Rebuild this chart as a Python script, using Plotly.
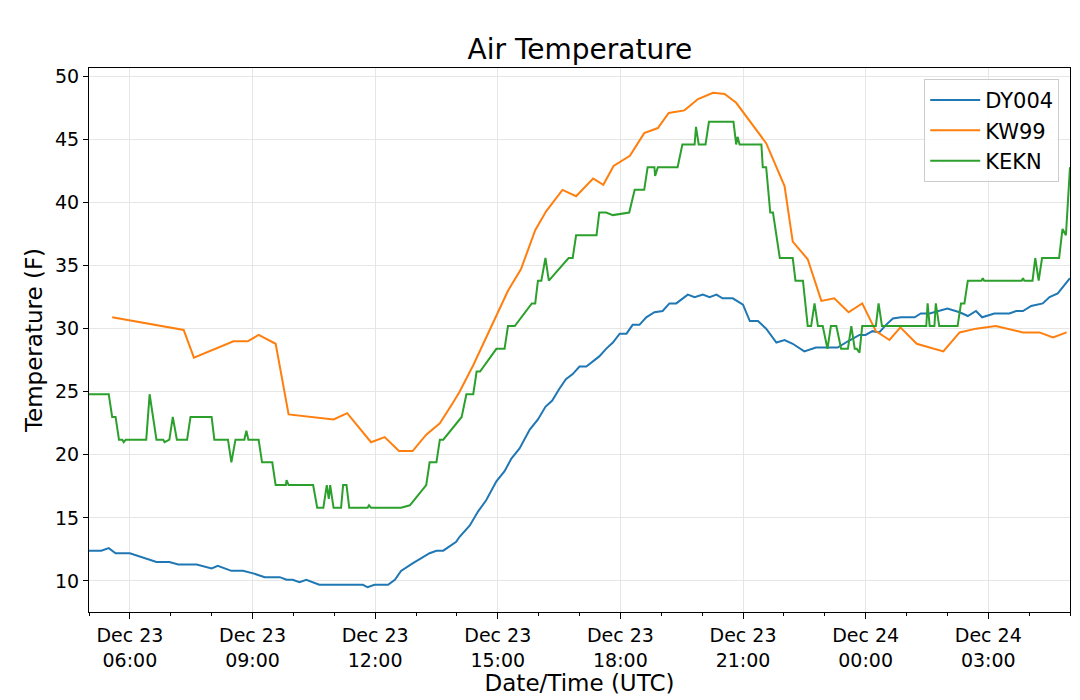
import plotly.graph_objects as go

# ---- data (deg F) ----
dy004_time = [
    "2019-12-23 05:00", "2019-12-23 05:18", "2019-12-23 05:29", "2019-12-23 05:39", "2019-12-23 06:00",
    "2019-12-23 06:39", "2019-12-23 06:58", "2019-12-23 07:11", "2019-12-23 07:38", "2019-12-23 08:00",
    "2019-12-23 08:09", "2019-12-23 08:29", "2019-12-23 08:46", "2019-12-23 09:01", "2019-12-23 09:18",
    "2019-12-23 09:40", "2019-12-23 09:50", "2019-12-23 09:59", "2019-12-23 10:09", "2019-12-23 10:19",
    "2019-12-23 10:38", "2019-12-23 11:42", "2019-12-23 11:49", "2019-12-23 11:59", "2019-12-23 12:19",
    "2019-12-23 12:29", "2019-12-23 12:38", "2019-12-23 12:55", "2019-12-23 13:20", "2019-12-23 13:30",
    "2019-12-23 13:40", "2019-12-23 13:59", "2019-12-23 14:04", "2019-12-23 14:19", "2019-12-23 14:31",
    "2019-12-23 14:43", "2019-12-23 14:58", "2019-12-23 15:10", "2019-12-23 15:20", "2019-12-23 15:32",
    "2019-12-23 15:47", "2019-12-23 15:59", "2019-12-23 16:10", "2019-12-23 16:20", "2019-12-23 16:30",
    "2019-12-23 16:40", "2019-12-23 16:50", "2019-12-23 17:00", "2019-12-23 17:10", "2019-12-23 17:20",
    "2019-12-23 17:29", "2019-12-23 17:39", "2019-12-23 17:49", "2019-12-23 17:59", "2019-12-23 18:09",
    "2019-12-23 18:18", "2019-12-23 18:28", "2019-12-23 18:38", "2019-12-23 18:50", "2019-12-23 19:02",
    "2019-12-23 19:12", "2019-12-23 19:22", "2019-12-23 19:39", "2019-12-23 19:49", "2019-12-23 20:01",
    "2019-12-23 20:11", "2019-12-23 20:21", "2019-12-23 20:30", "2019-12-23 20:45", "2019-12-23 21:00",
    "2019-12-23 21:10", "2019-12-23 21:22", "2019-12-23 21:34", "2019-12-23 21:49", "2019-12-23 22:01",
    "2019-12-23 22:13", "2019-12-23 22:30", "2019-12-23 22:47", "2019-12-23 23:19", "2019-12-23 23:34",
    "2019-12-23 23:51", "2019-12-24 00:00", "2019-12-24 00:10", "2019-12-24 00:20", "2019-12-24 00:30",
    "2019-12-24 00:40", "2019-12-24 00:52", "2019-12-24 01:12", "2019-12-24 01:21", "2019-12-24 01:34",
    "2019-12-24 01:46", "2019-12-24 02:00", "2019-12-24 02:18", "2019-12-24 02:30", "2019-12-24 02:42",
    "2019-12-24 02:51", "2019-12-24 03:09", "2019-12-24 03:31", "2019-12-24 03:41", "2019-12-24 03:51",
    "2019-12-24 04:03", "2019-12-24 04:20", "2019-12-24 04:30", "2019-12-24 04:42", "2019-12-24 05:00",
]
dy004_temp = [
    12.4, 12.4, 12.6, 12.2, 12.2, 11.5, 11.5, 11.3, 11.3, 11.0,
    11.2, 10.8, 10.8, 10.6, 10.3, 10.3, 10.1, 10.1, 9.9, 10.1,
    9.7, 9.7, 9.5, 9.7, 9.7, 10.1, 10.8, 11.4, 12.2, 12.4,
    12.4, 13.1, 13.5, 14.4, 15.5, 16.4, 17.9, 18.7, 19.7, 20.5,
    22.0, 22.8, 23.8, 24.3, 25.2, 26.0, 26.4, 27.0, 27.0, 27.4,
    27.8, 28.4, 28.9, 29.6, 29.6, 30.3, 30.3, 30.9, 31.3, 31.4,
    32.0, 32.0, 32.7, 32.5, 32.7, 32.5, 32.7, 32.4, 32.4, 31.9,
    30.6, 30.6, 30.0, 28.9, 29.1, 28.8, 28.2, 28.5, 28.5, 29.0,
    29.5, 29.5, 29.8, 29.7, 30.3, 30.8, 30.9, 30.9, 31.2, 31.2,
    31.4, 31.6, 31.3, 31.0, 31.4, 30.9, 31.2, 31.2, 31.4, 31.4,
    31.8, 32.0, 32.5, 32.8, 34.0,
]

kw99_time = [
    "2019-12-23 05:34", "2019-12-23 07:19", "2019-12-23 07:34", "2019-12-23 08:32", "2019-12-23 08:53",
    "2019-12-23 09:09", "2019-12-23 09:34", "2019-12-23 09:53", "2019-12-23 10:59", "2019-12-23 11:19",
    "2019-12-23 11:54", "2019-12-23 12:14", "2019-12-23 12:35", "2019-12-23 12:55", "2019-12-23 13:15",
    "2019-12-23 13:35", "2019-12-23 13:54", "2019-12-23 14:04", "2019-12-23 14:24", "2019-12-23 14:53",
    "2019-12-23 15:15", "2019-12-23 15:34", "2019-12-23 15:55", "2019-12-23 16:11", "2019-12-23 16:35",
    "2019-12-23 16:55", "2019-12-23 17:20", "2019-12-23 17:35", "2019-12-23 17:50", "2019-12-23 18:14",
    "2019-12-23 18:35", "2019-12-23 18:55", "2019-12-23 19:11", "2019-12-23 19:34", "2019-12-23 19:54",
    "2019-12-23 20:16", "2019-12-23 20:33", "2019-12-23 20:50", "2019-12-23 21:34", "2019-12-23 22:01",
    "2019-12-23 22:13", "2019-12-23 22:35", "2019-12-23 22:55", "2019-12-23 23:14", "2019-12-23 23:35",
    "2019-12-23 23:55", "2019-12-24 00:15", "2019-12-24 00:35", "2019-12-24 00:51", "2019-12-24 01:15",
    "2019-12-24 01:34", "2019-12-24 01:54", "2019-12-24 02:18", "2019-12-24 02:42", "2019-12-24 03:11",
    "2019-12-24 03:51", "2019-12-24 04:15", "2019-12-24 04:35", "2019-12-24 04:55",
]
kw99_temp = [
    30.9, 29.9, 27.7, 29.0, 29.0, 29.5, 28.8, 23.2, 22.8, 23.3,
    21.0, 21.4, 20.3, 20.3, 21.6, 22.5, 24.1, 25.0, 27.1, 30.5,
    33.0, 34.7, 37.8, 39.3, 41.0, 40.5, 41.9, 41.4, 42.9, 43.7,
    45.5, 45.9, 47.1, 47.3, 48.2, 48.7, 48.6, 47.9, 44.7, 41.3,
    36.9, 35.5, 32.2, 32.4, 31.3, 32.0, 29.8, 29.1, 30.1, 28.8,
    28.5, 28.2, 29.7, 30.0, 30.2, 29.7, 29.7, 29.3, 29.7,
]

kekn_time = [
    "2019-12-23 05:00", "2019-12-23 05:29", "2019-12-23 05:34", "2019-12-23 05:39", "2019-12-23 05:44",
    "2019-12-23 05:49", "2019-12-23 05:51", "2019-12-23 05:54", "2019-12-23 06:24", "2019-12-23 06:29",
    "2019-12-23 06:39", "2019-12-23 06:49", "2019-12-23 06:51", "2019-12-23 06:58", "2019-12-23 07:03",
    "2019-12-23 07:09", "2019-12-23 07:24", "2019-12-23 07:29", "2019-12-23 08:00", "2019-12-23 08:04",
    "2019-12-23 08:24", "2019-12-23 08:29", "2019-12-23 08:35", "2019-12-23 08:48", "2019-12-23 08:51",
    "2019-12-23 08:54", "2019-12-23 09:09", "2019-12-23 09:14", "2019-12-23 09:29", "2019-12-23 09:34",
    "2019-12-23 09:49", "2019-12-23 09:50", "2019-12-23 09:53", "2019-12-23 10:29", "2019-12-23 10:35",
    "2019-12-23 10:44", "2019-12-23 10:49", "2019-12-23 10:52", "2019-12-23 10:54", "2019-12-23 10:59",
    "2019-12-23 11:10", "2019-12-23 11:13", "2019-12-23 11:18", "2019-12-23 11:22", "2019-12-23 11:49",
    "2019-12-23 11:51", "2019-12-23 11:54", "2019-12-23 12:38", "2019-12-23 12:51", "2019-12-23 13:15",
    "2019-12-23 13:20", "2019-12-23 13:30", "2019-12-23 13:35", "2019-12-23 13:40", "2019-12-23 14:07",
    "2019-12-23 14:14", "2019-12-23 14:24", "2019-12-23 14:29", "2019-12-23 14:34", "2019-12-23 14:58",
    "2019-12-23 15:10", "2019-12-23 15:15", "2019-12-23 15:25", "2019-12-23 15:50", "2019-12-23 15:55",
    "2019-12-23 15:59", "2019-12-23 16:04", "2019-12-23 16:10", "2019-12-23 16:15", "2019-12-23 16:44",
    "2019-12-23 16:50", "2019-12-23 16:55", "2019-12-23 17:25", "2019-12-23 17:29", "2019-12-23 17:39",
    "2019-12-23 17:49", "2019-12-23 18:13", "2019-12-23 18:21", "2019-12-23 18:35", "2019-12-23 18:40",
    "2019-12-23 18:50", "2019-12-23 18:51", "2019-12-23 18:55", "2019-12-23 19:24", "2019-12-23 19:31",
    "2019-12-23 19:49", "2019-12-23 19:51", "2019-12-23 19:55", "2019-12-23 20:05", "2019-12-23 20:10",
    "2019-12-23 20:46", "2019-12-23 20:50", "2019-12-23 20:52", "2019-12-23 20:55", "2019-12-23 21:27",
    "2019-12-23 21:29", "2019-12-23 21:34", "2019-12-23 21:40", "2019-12-23 21:44", "2019-12-23 21:54",
    "2019-12-23 22:13", "2019-12-23 22:17", "2019-12-23 22:28", "2019-12-23 22:35", "2019-12-23 22:40",
    "2019-12-23 22:45", "2019-12-23 22:50", "2019-12-23 22:57", "2019-12-23 23:04", "2019-12-23 23:09",
    "2019-12-23 23:17", "2019-12-23 23:24", "2019-12-23 23:34", "2019-12-23 23:39", "2019-12-23 23:44",
    "2019-12-23 23:47", "2019-12-23 23:51", "2019-12-23 23:55", "2019-12-24 00:15", "2019-12-24 00:19",
    "2019-12-24 00:24", "2019-12-24 01:29", "2019-12-24 01:31", "2019-12-24 01:34", "2019-12-24 01:41",
    "2019-12-24 01:43", "2019-12-24 01:48", "2019-12-24 02:15", "2019-12-24 02:20", "2019-12-24 02:25",
    "2019-12-24 02:30", "2019-12-24 02:50", "2019-12-24 02:52", "2019-12-24 02:54", "2019-12-24 03:49",
    "2019-12-24 03:51", "2019-12-24 03:53", "2019-12-24 04:05", "2019-12-24 04:09", "2019-12-24 04:14",
    "2019-12-24 04:19", "2019-12-24 04:44", "2019-12-24 04:49", "2019-12-24 04:54", "2019-12-24 05:00",
]
kekn_temp = [
    24.8, 24.8, 23.0, 23.0, 21.2, 21.2, 21.0, 21.2, 21.2, 24.8,
    21.2, 21.2, 21.0, 21.2, 23.0, 21.2, 21.2, 23.0, 23.0, 21.2,
    21.2, 19.4, 21.2, 21.2, 21.9, 21.2, 21.2, 19.4, 19.4, 17.6,
    17.6, 18.0, 17.6, 17.6, 15.8, 15.8, 17.6, 16.5, 17.6, 15.8,
    15.8, 17.6, 17.6, 15.8, 15.8, 16.0, 15.8, 15.8, 16.0, 17.6,
    19.4, 19.4, 21.2, 21.2, 23.0, 24.8, 24.8, 26.6, 26.6, 28.4,
    28.4, 30.2, 30.2, 32.0, 32.0, 33.8, 33.8, 35.6, 33.8, 35.6,
    35.6, 37.4, 37.4, 39.2, 39.2, 39.0, 39.2, 41.0, 41.0, 42.8,
    42.8, 42.1, 42.8, 42.8, 44.6, 44.6, 46.0, 44.6, 44.6, 46.4,
    46.4, 44.6, 45.2, 44.6, 44.6, 42.8, 42.8, 39.2, 39.2, 35.6,
    35.6, 33.8, 33.8, 30.2, 30.2, 32.0, 30.2, 30.2, 28.4, 30.2,
    30.2, 28.4, 28.4, 30.2, 28.4, 28.4, 28.1, 30.2, 30.2, 32.0,
    30.2, 30.2, 32.0, 30.2, 30.2, 32.0, 30.2, 30.2, 32.0, 32.0,
    33.8, 33.8, 34.0, 33.8, 33.8, 34.0, 33.8, 33.8, 35.6, 33.8,
    35.6, 35.6, 37.9, 37.4, 42.8,
]

series = [
    ("DY004", dy004_time, dy004_temp, "#1f77b4"),
    ("KW99", kw99_time, kw99_temp, "#ff7f0e"),
    ("KEKN", kekn_time, kekn_temp, "#2ca02c"),
]

FONT = "DejaVu Sans"
HOUR_MS = 3600 * 1000

fig = go.Figure()
for name, t, v, c in series:
    fig.add_trace(go.Scatter(x=t, y=v, mode="lines", name=name,
                             line=dict(color=c, width=2)))

fig.update_layout(
    width=1080,
    height=700,
    margin=dict(l=89, r=9, t=68, b=83),
    paper_bgcolor="white",
    plot_bgcolor="white",
    font=dict(family=FONT, size=19, color="black"),
    title=dict(text="Air Temperature", x=0.537, xanchor="center",
               y=1 - 49 / 700, yanchor="middle", yref="container",
               font=dict(size=28)),
    legend=dict(x=0.989, xanchor="right", y=0.98, yanchor="top",
                bgcolor="rgba(255,255,255,0.85)", bordercolor="#cccccc",
                borderwidth=1, font=dict(size=21), itemwidth=50),
    showlegend=True,
)

fig.update_xaxes(
    type="date",
    range=["2019-12-23 05:00", "2019-12-24 05:00"],
    tick0="2019-12-23 00:00",
    dtick=3 * HOUR_MS,
    tickformat="%b %d<br>%H:%M",
    ticks="outside", ticklen=6, tickcolor="black",
    showline=True, linecolor="black", linewidth=1, mirror=True,
    showgrid=True, gridcolor="#e6e6e6", gridwidth=1.2,
    minor=dict(dtick=HOUR_MS, tick0="2019-12-23 00:00", ticks="outside",
               ticklen=3, tickcolor="black", showgrid=False),
    title=dict(text="Date/Time (UTC)", font=dict(size=23), standoff=4),
    zeroline=False,
)
fig.update_yaxes(
    range=[7.54, 50.66],
    tick0=10, dtick=5,
    ticks="outside", ticklen=5, tickcolor="black",
    showline=True, linecolor="black", linewidth=1, mirror=True,
    showgrid=True, gridcolor="#e6e6e6", gridwidth=1.2,
    title=dict(text="Temperature (F)", font=dict(size=23), standoff=5),
    zeroline=False,
)

# page has a default body margin; drop it so the figure sits at the window corner
fig.write_html("out.html", config={"displayModeBar": False},
               post_script="document.body.style.margin='0';")
